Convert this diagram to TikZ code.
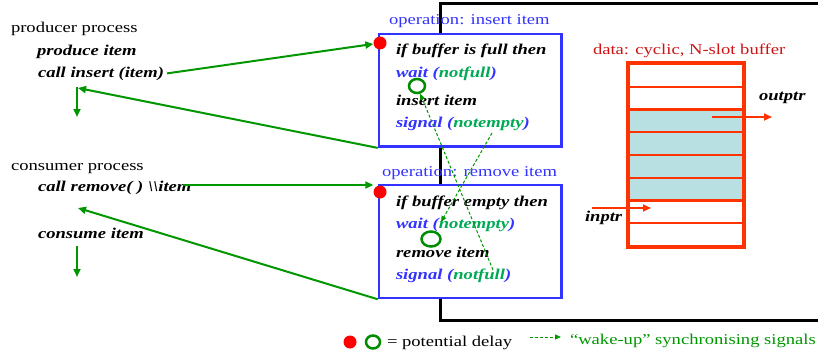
\documentclass[tikz,border=0pt]{standalone}
\usepackage{fontspec}
\setmainfont{Liberation Serif}[FakeStretch=1.24]
\usetikzlibrary{arrows.meta,shapes.geometric}
\definecolor{boxblue}{RGB}{51,51,255}
\definecolor{sigreen}{RGB}{0,170,85}
\definecolor{arrgreen}{RGB}{0,150,0}
\definecolor{circgreen}{RGB}{0,140,0}
\definecolor{bufred}{RGB}{255,51,0}
\definecolor{bufill}{RGB}{184,224,226}
\definecolor{datared}{RGB}{204,20,20}
\newcommand{\bl}[1]{{\color{boxblue}#1}}
\newcommand{\gr}[1]{{\color{sigreen}#1}}
\begin{document}
\begin{tikzpicture}[x=1pt,y=-1pt,
  every node/.style={font=\fontsize{15}{18}\selectfont},
  txt/.style={anchor=base west, inner sep=0pt, outer sep=0pt},
  code/.style={txt, font=\fontsize{15}{18}\selectfont\bfseries\itshape},
  opbox/.style={draw=boxblue, line width=2.5pt, fill=white, minimum width=182.7pt, inner sep=0pt},
  frameline/.style={line width=3pt, black},
  reddot/.style={circle, fill=red, minimum size=13pt, inner sep=0pt},
  gcirc/.style={ellipse, draw=circgreen, line width=2.5pt, inner sep=0pt},
  garrow/.style={draw=arrgreen, line width=2pt, -{Triangle[length=8pt,width=7pt]}},
  warrow/.style={draw=arrgreen, line width=1pt, dash pattern=on 3pt off 2pt, -{Triangle[length=6pt,width=5pt]}},
  slot/.style={draw=bufred, line width=2.2pt, minimum width=114pt, minimum height=22.75pt, inner sep=0pt},
  fullslot/.style={slot, fill=bufill},
  rarrow/.style={draw=bufred, line width=2pt, -{Triangle[length=8pt,width=7pt]}},
]
\useasboundingbox (0,0) rectangle (818,353);

% black frame
\draw[frameline] (818,4) -- (440,4) -- (440,320) -- (818,320);

% process texts
\node[txt] (prod) at (11,33) {producer process};
\node[code] (prodit) at (37,56) {produce item};
\node[code] (callins) at (38,77) {call insert (item)};
\node[txt] (cons) at (11,170) {consumer process};
\node[code] (callrem) at (38,191) {call remove( ) \textbackslash\textbackslash item};
\node[code] (consit) at (38,238) {consume item};

% operation boxes
\node[txt, text=boxblue] (institle) at (389,25) {operation: insert item};
\node[opbox, minimum height=112.7pt] (ins) at (470.3,90.3) {};
\node[txt, text=boxblue] (remtitle) at (382,176) {operation: remove item};
\node[opbox, minimum height=113pt] (rem) at (470.3,241.5) {};

\node[code] (i1) at (396,55) {if buffer is full then};
\node[code] (i2) at (396,77) {\bl{wait (}\gr{notfull}\bl{)}};
\node[code] (i3) at (396,105) {insert item};
\node[code] (i4) at (396,127) {\bl{signal (}\gr{notempty}\bl{)}};

\node[code] (r1) at (396,206) {if buffer empty then};
\node[code] (r2) at (396,228) {\bl{wait (}\gr{notempty}\bl{)}};
\node[code] (r3) at (396,257) {remove item};
\node[code] (r4) at (396,279) {\bl{signal (}\gr{notfull}\bl{)}};

% delay markers
\node[reddot] (d1) at (380,43) {};
\node[reddot] (d2) at (380,192) {};
\node[gcirc, minimum width=16pt, minimum height=14pt] (c1) at (417,86) {};
\node[gcirc, minimum width=19pt, minimum height=15pt] (c2) at (431,239) {};

% buffer
\node[txt, text=datared] (datalbl) at (593,55) {data: cyclic, N-slot buffer};
\node[slot] (s1) at (686,75.4) {};
\node[slot] (s2) at (686,98.1) {};
\node[fullslot] (s3) at (686,120.9) {};
\node[fullslot] (s4) at (686,143.6) {};
\node[fullslot] (s5) at (686,166.4) {};
\node[fullslot] (s6) at (686,189.1) {};
\node[slot] (s7) at (686,211.9) {};
\node[slot] (s8) at (686,234.6) {};
\draw[bufred, line width=3.2pt] (s1.north west) rectangle (s8.south east);
\node[code] (outlbl) at (759,100) {outptr};
\node[code] (inlbl) at (585,221) {inptr};
\coordinate (oa) at (712,117);
\coordinate (ob) at (772,117);
\coordinate (ia) at (592,208);
\coordinate (ib) at (651,208);
\draw[rarrow] (oa) -- (ob);
\draw[rarrow] (ia) -- (ib);

% call / return arrows
\coordinate (cstart) at (183,185);
\coordinate (ret1) at (78,88);
\coordinate (down1) at (77,117);
\coordinate (ret2) at (78,208);
\coordinate (down2a) at (77,246);
\coordinate (down2b) at (77,277);
\draw[garrow] ([xshift=3pt]callins.east) -- (d1);
\draw[garrow] (ins.south west) -- (ret1);
\draw[garrow] (77,87) -- (down1);
\draw[garrow] (cstart) -- (cstart -| d2.west);
\draw[garrow] (rem.south west) -- (ret2);
\draw[garrow] (down2a) -- (down2b);

% wake-up signals
\coordinate (sg1) at (492,133);
\coordinate (sg1end) at (441,222);
\coordinate (sg2) at (493,270);
\draw[warrow] (sg2) -- (c1);
\draw[warrow] (sg1) -- (sg1end);

% legend
\node[reddot] (ld) at (350,342) {};
\node[gcirc, minimum width=14pt, minimum height=13pt] (lc) at (373,342) {};
\node[txt] (ltext) at (387,346) {= potential delay};
\coordinate (la) at (530,337);
\coordinate (lb) at (561,337);
\draw[warrow] (la) -- (lb);
\node[txt, text=arrgreen] (wtext) at (570,344.5) {“wake-up” synchronising signals};
\end{tikzpicture}
\end{document}
